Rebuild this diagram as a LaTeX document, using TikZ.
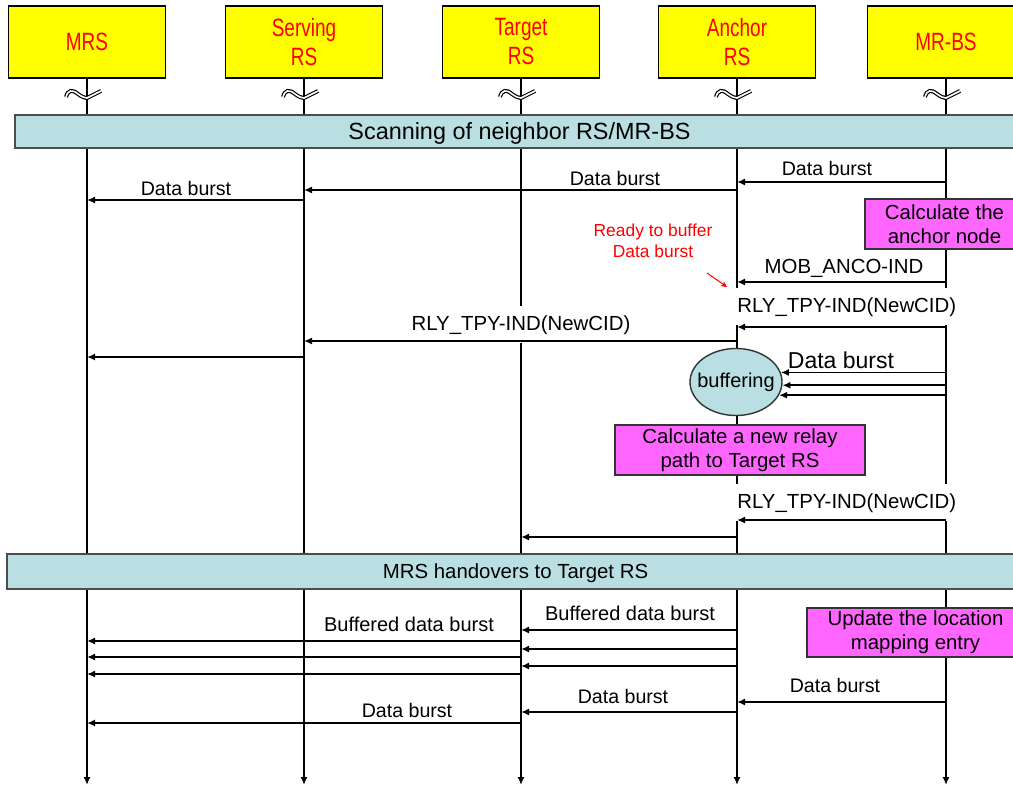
\documentclass[tikz,border=0pt]{standalone}
\usepackage{fontspec}
\setmainfont{Liberation Sans}
\newfontfamily\headfont[FakeStretch=0.76]{Liberation Sans}
\usetikzlibrary{positioning,arrows.meta,shapes.geometric}
\definecolor{hdyellow}{HTML}{FFFF00}
\definecolor{hdred}{HTML}{FF0000}
\definecolor{barblue}{HTML}{BADFE2}
\definecolor{notepink}{HTML}{FF66FF}

\begin{document}
\begin{tikzpicture}[x=0.5pt,y=-0.5pt,
    header/.style={draw=black,fill=hdyellow,line width=0.7pt,minimum width=78.5pt,
        minimum height=36pt,align=center,text=hdred,
        font=\headfont\fontsize{12.5}{14.5}\selectfont},
    life/.style={line width=0.9pt,-{Latex[length=4pt,width=3.5pt]}},
    msg/.style={line width=0.9pt,-{Latex[length=4pt,width=3.5pt]}},
    bar/.style={draw=black!70,fill=barblue,line width=0.7pt,inner sep=0pt,text depth=0pt},
    note/.style={draw=black!80,fill=notepink,line width=0.7pt,align=center,
        inner sep=0pt,font=\fontsize{10.2}{11.8}\selectfont},
    lbl/.style={anchor=base,inner sep=0pt,font=\fontsize{9.8}{11.8}\selectfont},
    cut/.style={anchor=base,fill=white,inner xsep=1pt,inner ysep=4.3pt,
        text height=7.6pt,text depth=2.2pt,font=\fontsize{10.2}{12}\selectfont}
]
\useasboundingbox (0,0) rectangle (1013,787);
\clip (0,0) rectangle (1013,787);

% Heads of the lifelines
\node[header] (mrs) at (87,42)  {MRS};
\node[header] (srv) at (304,42) {Serving\\RS};
\node[header] (tgt) at (521,42) {Target\\RS};
\node[header] (anc) at (737,42) {Anchor\\RS};
\node[header] (bs)  at (946,42) {MR-BS};

% Lifelines and the break marks
\foreach \n in {mrs,srv,tgt,anc,bs}{
    \draw[life] (\n.south) -- (\n |- 0,785);
    \begin{scope}[shift={(\n |- 0,0)}]
        \draw[double,line width=0.6pt,double distance=0.8pt]
            (-21,97) .. controls (-19,90) and (-15,89) .. (-9,94)
            .. controls (-5,97) and (-2,98) .. (0,98) -- (14,91);
    \end{scope}
}

% Phase bars
\node[bar,minimum width=504.5pt,minimum height=16.5pt,
    font=\fontsize{11.7}{14}\selectfont] (scan) at (519.5,131.5)
    {Scanning of neighbor RS/MR-BS};
\node[bar,minimum width=508.5pt,minimum height=17.5pt,
    font=\fontsize{10.2}{12}\selectfont] (hand) at (515.5,571.5)
    {MRS handovers to Target RS};

% Labels that hide the lifelines behind them
\node[cut,anchor=base west] (rly1) at (735,312) {RLY\_TPY-IND(NewCID)};
\node[cut] (rly2) at (521,330) {RLY\_TPY-IND(NewCID)};
\node[cut,anchor=base west] (rly3) at (735,508) {RLY\_TPY-IND(NewCID)};

% Data burst before the handover
\draw[msg] (bs |- 0,182) -- (anc |- 0,182);
\node[lbl] (db1) at (827,175) {Data burst};
\draw[msg] (anc |- 0,190) -- (srv |- 0,190);
\node[lbl] (db2) at (615,185) {Data burst};
\draw[msg] (srv |- 0,200) -- (mrs |- 0,200);
\node[lbl] (db3) at (186,195) {Data burst};

\node[note,minimum width=79.5pt,minimum height=25pt] (calc1) at (944.5,224)
    {Calculate the\\anchor node};

% anchor node is told
\node[align=center,inner sep=0pt,text=red,font=\fontsize{8.7}{10.5}\selectfont]
    (ready) at (653,241) {Ready to buffer\\Data burst};
\coordinate (rdy0) at (707,273);
\coordinate (rdy1) at (727,287);
\draw[red,line width=0.5pt,-{Stealth[length=3pt,width=3pt]}] (rdy0) -- (rdy1);

\draw[msg] (bs |- 0,282) -- (anc |- 0,282);
\node[lbl,font=\fontsize{10.2}{12}\selectfont] (mob) at (844,273) {MOB\_ANCO-IND};

\draw[msg] (bs |- 0,327) -- (anc |- 0,327);
\draw[msg] (anc |- 0,341) -- (srv |- 0,341);
\draw[msg] (srv |- 0,357) -- (mrs |- 0,357);

% buffering at the anchor RS
\node[ellipse,draw=black!80,fill=barblue,line width=0.7pt,minimum width=46pt,
    minimum height=33.5pt,inner xsep=-3.5pt,inner ysep=0pt,
    font=\fontsize{10}{12}\selectfont]
    (buf) at (736,382) {buffering};
\foreach \a in {12,-4,-17}
    \draw[msg] (bs |- buf.\a) -- (buf.\a);
\node[lbl,font=\fontsize{11.5}{13}\selectfont] (db4) at (841,368) {Data burst};

\node[note,minimum width=125pt,minimum height=25pt] (calc2) at (740,450)
    {Calculate a new relay\\path to Target RS};

\draw[msg] (bs |- 0,520) -- (anc |- 0,520);
\draw[msg] (anc |- 0,537) -- (tgt |- 0,537);

% after the handover
\draw[msg] (anc |- 0,630) -- (tgt |- 0,630);
\node[lbl,font=\fontsize{10}{12}\selectfont] (bdb1) at (630,620) {Buffered data burst};
\draw[msg] (tgt |- 0,641) -- (mrs |- 0,641);
\node[lbl,font=\fontsize{10}{12}\selectfont] (bdb2) at (409,631) {Buffered data burst};
\draw[msg] (anc |- 0,649) -- (tgt |- 0,649);
\draw[msg] (tgt |- 0,657) -- (mrs |- 0,657);
\draw[msg] (anc |- 0,666) -- (tgt |- 0,666);
\draw[msg] (tgt |- 0,674) -- (mrs |- 0,674);

\node[note,minimum width=108.5pt,minimum height=24.5pt] (upd) at (915.5,632.5)
    {Update the location\\mapping entry};

\draw[msg] (bs |- 0,702) -- (anc |- 0,702);
\node[lbl] (db5) at (835,692) {Data burst};
\draw[msg] (anc |- 0,712) -- (tgt |- 0,712);
\node[lbl] (db6) at (623,703) {Data burst};
\draw[msg] (tgt |- 0,723) -- (mrs |- 0,723);
\node[lbl] (db7) at (407,717) {Data burst};
\end{tikzpicture}
\end{document}
